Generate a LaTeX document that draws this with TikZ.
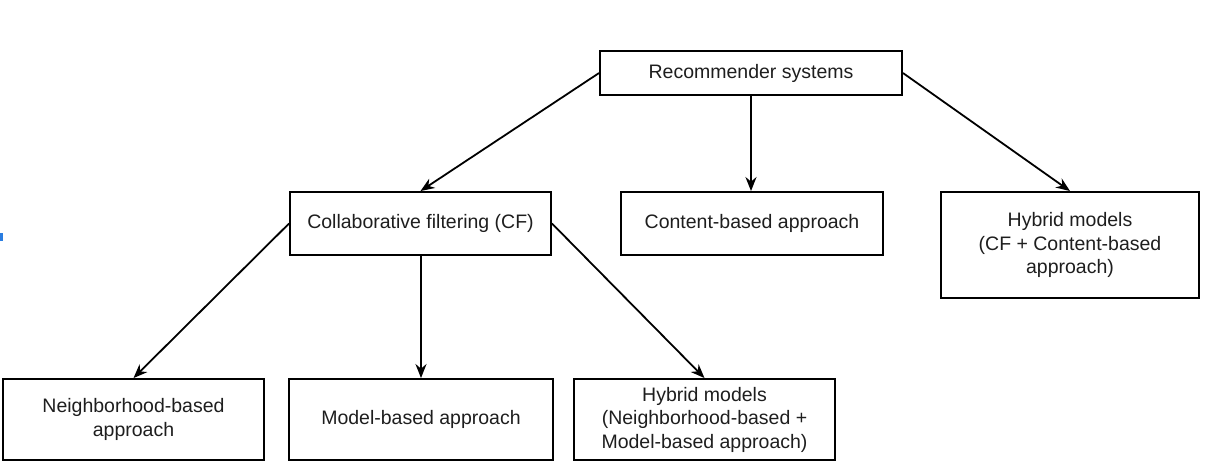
\documentclass[tikz,border=0pt]{standalone}
\usepackage{fontspec}
\setmainfont{Liberation Sans}
\usetikzlibrary{arrows.meta}
\definecolor{txt}{HTML}{1E1E1E}
\definecolor{markblue}{HTML}{2A7DE1}
\begin{document}
\begin{tikzpicture}[x=1pt,y=-1pt,
  box/.style={draw=black,line width=1.9pt,fill=white,align=center,inner sep=0pt,
    font=\fontsize{19.5pt}{23.5pt}\selectfont,text=txt},
  conn/.style={draw=black,line width=1.8pt,-{Stealth[length=14pt,width=11pt]}}]
\useasboundingbox (0,0) rectangle (1207,474);
\fill[markblue] (0,233) rectangle (3,241);
\node[box,minimum width=302pt,minimum height=44pt] (rec) at (751,73) {Recommender systems};
\node[box,minimum width=261pt,minimum height=63pt] (cf) at (420.5,223.5) {Collaborative filtering (CF)};
\node[box,minimum width=262pt,minimum height=63pt] (cb) at (752,223.5) {Content-based approach};
\node[box,minimum width=258pt,minimum height=106pt] (hy) at (1070,245) {Hybrid models\\(CF + Content-based\\approach)};
\node[box,minimum width=261pt,minimum height=81pt] (nb) at (133.5,419.5) {Neighborhood-based\\approach};
\node[box,minimum width=264pt,minimum height=81pt] (mb) at (421,419.5) {Model-based approach};
\node[box,minimum width=261pt,minimum height=81pt] (hy2) at (704.5,419.5) {Hybrid models\\(Neighborhood-based +\\Model-based approach)};
\draw[conn] (rec.west) -- (cf.north);
\draw[conn] (rec.south) -- (rec.south |- cb.north);
\draw[conn] (rec.east) -- (hy.north);
\draw[conn] (cf.west) -- (nb.north);
\draw[conn] (mb.north |- cf.south) -- (mb.north);
\draw[conn] (cf.east) -- (hy2.north);
\end{tikzpicture}
\end{document}
